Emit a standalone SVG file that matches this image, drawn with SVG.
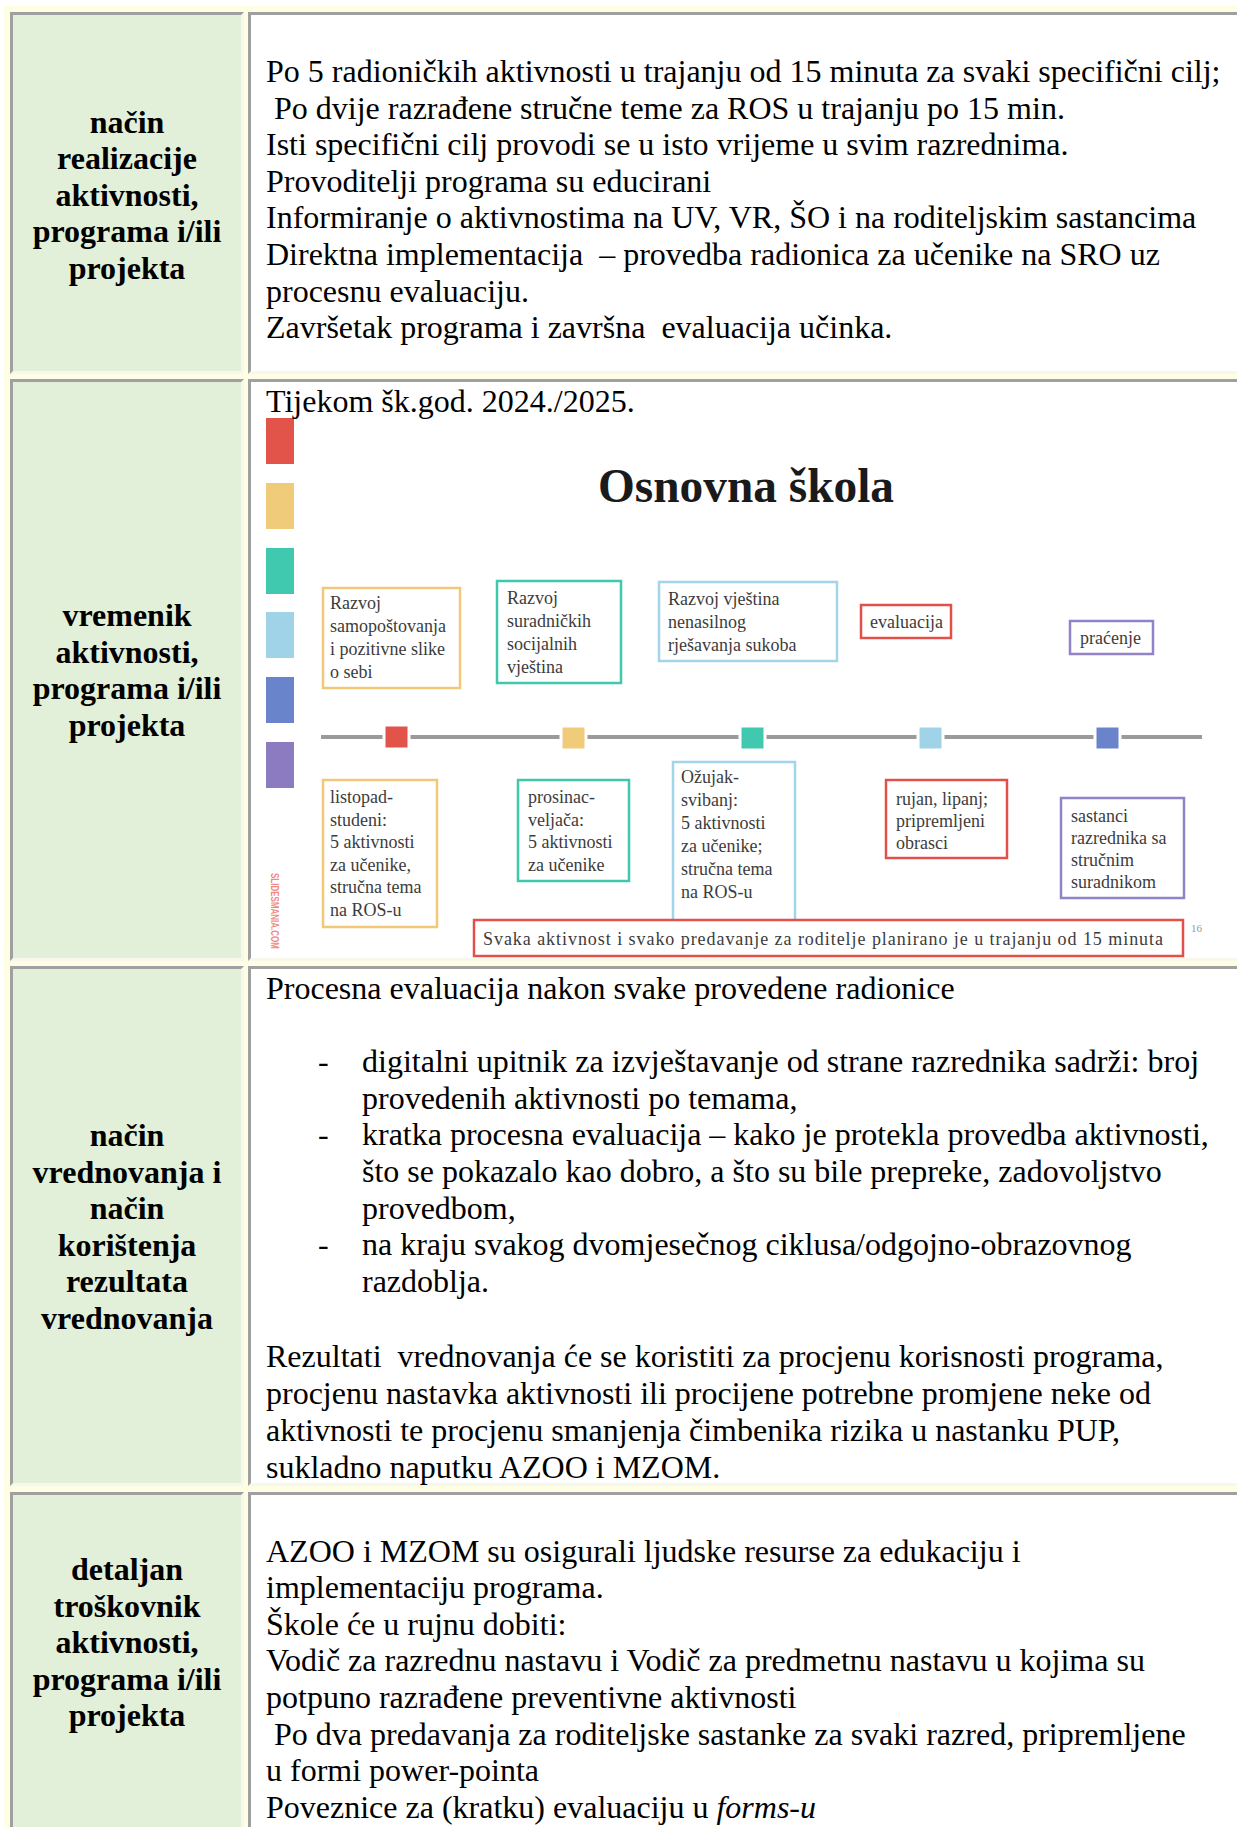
<svg xmlns="http://www.w3.org/2000/svg" width="1237" height="1827" viewBox="0 0 1237 1827">
<style>
.gray{fill:#a0a0a0}
.light{fill:#f7f7ec}
.lb{fill:#e2efd9}
.wb{fill:#ffffff}
.lbl{font-family:"Liberation Serif","Times New Roman",serif;font-size:32px;font-weight:bold;text-anchor:middle;fill:#000}
.txt{font-family:"Liberation Serif","Times New Roman",serif;font-size:32px;fill:#000;white-space:pre}
.sl{font-family:"Liberation Serif","Times New Roman",serif;font-size:18px;fill:#3c3c3c;white-space:pre}
.box{fill:#ffffff;stroke-width:2.5}
.red{stroke:#e2504a}.yel{stroke:#f0c878}.tea{stroke:#40c8ad}.lbl2{stroke:#a2d4ea}.blu{stroke:#6a84cc}.pur{stroke:#9282c6}
</style>
<rect x="0" y="0" width="1237" height="1827" fill="#ffffff"/>
<rect x="4" y="6" width="1233" height="1821" fill="#fefee4"/>

<!-- Row 1 -->
<g id="r1-label">
<rect x="10" y="12" width="234" height="362" class="gray"/>
<path d="M244 12 L244 374 L10 374 L13 371 L241 371 L241 15 Z" class="light"/>
<rect x="13" y="15" width="228" height="356" class="lb"/>
<text class="lbl" x="127" y="132.5">način</text>
<text class="lbl" x="127" y="169">realizacije</text>
<text class="lbl" x="127" y="205.7">aktivnosti,</text>
<text class="lbl" x="127" y="242.3">programa i/ili</text>
<text class="lbl" x="127" y="279">projekta</text>
</g>
<g id="r1-body">
<rect x="248" y="12" width="1000" height="362" class="gray"/>
<path d="M1248 12 L1248 374 L248 374 L251 371 L1245 371 L1245 15 Z" class="light"/>
<rect x="251" y="15" width="994" height="356" class="wb"/>
<text class="txt" x="266" y="82">Po 5 radioničkih aktivnosti u trajanju od 15 minuta za svaki specifični cilj;</text>
<text class="txt" x="266" y="118.6"> Po dvije razrađene stručne teme za ROS u trajanju po 15 min.</text>
<text class="txt" x="266" y="155.2">Isti specifični cilj provodi se u isto vrijeme u svim razrednima.</text>
<text class="txt" x="266" y="191.8">Provoditelji programa su educirani</text>
<text class="txt" x="266" y="228.4">Informiranje o aktivnostima na UV, VR, ŠO i na roditeljskim sastancima</text>
<text class="txt" x="266" y="265">Direktna implementacija  – provedba radionica za učenike na SRO uz</text>
<text class="txt" x="266" y="301.6">procesnu evaluaciju.</text>
<text class="txt" x="266" y="338.2">Završetak programa i završna  evaluacija učinka.</text>
</g>

<!-- Row 2 -->
<g id="r2-label">
<rect x="10" y="379" width="234" height="582" class="gray"/>
<path d="M244 379 L244 961 L10 961 L13 958 L241 958 L241 382 Z" class="light"/>
<rect x="13" y="382" width="228" height="576" class="lb"/>
<text class="lbl" x="127" y="626">vremenik</text>
<text class="lbl" x="127" y="662.6">aktivnosti,</text>
<text class="lbl" x="127" y="699.2">programa i/ili</text>
<text class="lbl" x="127" y="735.8">projekta</text>
</g>
<g id="r2-body">
<rect x="248" y="379" width="1000" height="582" class="gray"/>
<path d="M1248 379 L1248 961 L248 961 L251 958 L1245 958 L1245 382 Z" class="light"/>
<rect x="251" y="382" width="994" height="576" class="wb"/>
</g>
<g id="slide">
<rect x="266" y="418" width="28" height="46" fill="#e2534a"/>
<rect x="266" y="483" width="28" height="46" fill="#f0cb7a"/>
<rect x="266" y="548" width="28" height="46" fill="#40c9ae"/>
<rect x="266" y="612" width="28" height="46" fill="#a0d3e8"/>
<rect x="266" y="677" width="28" height="46" fill="#6a84cb"/>
<rect x="266" y="742" width="28" height="46" fill="#8c7bc0"/>
<text x="598" y="502" textLength="296" lengthAdjust="spacingAndGlyphs" style="font-family:'Liberation Serif',serif;font-size:48px;font-weight:bold;fill:#1a1a1a">Osnovna škola</text>
<text transform="translate(271,873) rotate(90)" textLength="76" lengthAdjust="spacingAndGlyphs" style="font-family:'Liberation Sans',sans-serif;font-size:10px;font-weight:bold;fill:#f08a82">SLIDESMANIA.COM</text>
<text x="1191" y="932" style="font-family:'Liberation Serif',serif;font-size:11px;fill:#999">16</text>
</g>
<g id="r2-text">
<text class="txt" x="266" y="412">Tijekom šk.god. 2024./2025.</text>
</g>
<g id="connectors">
<line x1="321" y1="737" x2="1202" y2="737" stroke="#9a9a9a" stroke-width="4"/>
</g>
<g id="tl-markers" stroke="#ffffff" stroke-width="3">
<rect x="384" y="725" width="25" height="24" fill="#e2534a"/>
<rect x="561" y="726" width="25" height="24" fill="#f0cb7a"/>
<rect x="740" y="726" width="25" height="24" fill="#40c9ae"/>
<rect x="918" y="726" width="25" height="24" fill="#a0d3e8"/>
<rect x="1095" y="726" width="25" height="24" fill="#6a84cb"/>
</g>
<g id="box-samopostovanje">
<rect x="323" y="588" width="137" height="100" class="box yel"/>
<text class="sl" x="330" y="609">Razvoj</text>
<text class="sl" x="330" y="632">samopoštovanja</text>
<text class="sl" x="330" y="655">i pozitivne slike</text>
<text class="sl" x="330" y="678">o sebi</text>
</g>
<g id="box-socijalne">
<rect x="497" y="581" width="124" height="102" class="box tea"/>
<text class="sl" x="507" y="604">Razvoj</text>
<text class="sl" x="507" y="627">suradničkih</text>
<text class="sl" x="507" y="650">socijalnih</text>
<text class="sl" x="507" y="673">vještina</text>
</g>
<g id="box-sukobi">
<rect x="659" y="582" width="178" height="79" class="box lbl2"/>
<text class="sl" x="668" y="605">Razvoj vještina</text>
<text class="sl" x="668" y="628">nenasilnog</text>
<text class="sl" x="668" y="651">rješavanja sukoba</text>
</g>
<g id="box-evaluacija">
<rect x="861" y="605" width="90" height="33" class="box red"/>
<text class="sl" x="870" y="628">evaluacija</text>
</g>
<g id="box-pracenje">
<rect x="1070" y="621" width="83" height="33" class="box pur"/>
<text class="sl" x="1080" y="644">praćenje</text>
</g>
<g id="box-listopad">
<rect x="323" y="780" width="114" height="147" class="box yel"/>
<text class="sl" x="330" y="803">listopad-</text>
<text class="sl" x="330" y="825.5">studeni:</text>
<text class="sl" x="330" y="848">5 aktivnosti</text>
<text class="sl" x="330" y="870.5">za učenike,</text>
<text class="sl" x="330" y="893">stručna tema</text>
<text class="sl" x="330" y="915.5">na ROS-u</text>
</g>
<g id="box-prosinac">
<rect x="518" y="780" width="111" height="101" class="box tea"/>
<text class="sl" x="528" y="803">prosinac-</text>
<text class="sl" x="528" y="825.5">veljača:</text>
<text class="sl" x="528" y="848">5 aktivnosti</text>
<text class="sl" x="528" y="870.5">za učenike</text>
</g>
<g id="box-ozujak">
<rect x="673" y="762" width="122" height="165" class="box lbl2"/>
<text class="sl" x="681" y="783">Ožujak-</text>
<text class="sl" x="681" y="806">svibanj:</text>
<text class="sl" x="681" y="829">5 aktivnosti</text>
<text class="sl" x="681" y="852">za učenike;</text>
<text class="sl" x="681" y="875">stručna tema</text>
<text class="sl" x="681" y="898">na ROS-u</text>
</g>
<g id="box-rujan">
<rect x="886" y="780" width="121" height="78" class="box red"/>
<text class="sl" x="896" y="805">rujan, lipanj;</text>
<text class="sl" x="896" y="827">pripremljeni</text>
<text class="sl" x="896" y="849">obrasci</text>
</g>
<g id="box-sastanci">
<rect x="1061" y="798" width="123" height="100" class="box pur"/>
<text class="sl" x="1071" y="822">sastanci</text>
<text class="sl" x="1071" y="844">razrednika sa</text>
<text class="sl" x="1071" y="866">stručnim</text>
<text class="sl" x="1071" y="888">suradnikom</text>
</g>
<g id="box-napomena">
<rect x="474" y="920" width="709" height="36" class="box red"/>
<text class="sl" x="483" y="945" textLength="680" lengthAdjust="spacing">Svaka aktivnost i svako predavanje za roditelje planirano je u trajanju od 15 minuta</text>
</g>

<!-- Row 3 -->
<g id="r3-label">
<rect x="10" y="966" width="234" height="520" class="gray"/>
<path d="M244 966 L244 1486 L10 1486 L13 1483 L241 1483 L241 969 Z" class="light"/>
<rect x="13" y="969" width="228" height="514" class="lb"/>
<text class="lbl" x="127" y="1146">način</text>
<text class="lbl" x="127" y="1182.6">vrednovanja i</text>
<text class="lbl" x="127" y="1219.2">način</text>
<text class="lbl" x="127" y="1255.8">korištenja</text>
<text class="lbl" x="127" y="1292.4">rezultata</text>
<text class="lbl" x="127" y="1329">vrednovanja</text>
</g>
<g id="r3-body">
<rect x="248" y="966" width="1000" height="520" class="gray"/>
<path d="M1248 966 L1248 1486 L248 1486 L251 1483 L1245 1483 L1245 969 Z" class="light"/>
<rect x="251" y="969" width="994" height="514" class="wb"/>
<text class="txt" x="266" y="999">Procesna evaluacija nakon svake provedene radionice</text>
<text class="txt" x="318" y="1072.2">-</text>
<text class="txt" x="362" y="1072.2">digitalni upitnik za izvještavanje od strane razrednika sadrži: broj</text>
<text class="txt" x="362" y="1108.8">provedenih aktivnosti po temama,</text>
<text class="txt" x="318" y="1145.4">-</text>
<text class="txt" x="362" y="1145.4">kratka procesna evaluacija – kako je protekla provedba aktivnosti,</text>
<text class="txt" x="362" y="1182">što se pokazalo kao dobro, a što su bile prepreke, zadovoljstvo</text>
<text class="txt" x="362" y="1218.6">provedbom,</text>
<text class="txt" x="318" y="1255.2">-</text>
<text class="txt" x="362" y="1255.2">na kraju svakog dvomjesečnog ciklusa/odgojno-obrazovnog</text>
<text class="txt" x="362" y="1291.8">razdoblja.</text>
<text class="txt" x="266" y="1367">Rezultati  vrednovanja će se koristiti za procjenu korisnosti programa,</text>
<text class="txt" x="266" y="1404">procjenu nastavka aktivnosti ili procijene potrebne promjene neke od</text>
<text class="txt" x="266" y="1441">aktivnosti te procjenu smanjenja čimbenika rizika u nastanku PUP,</text>
<text class="txt" x="266" y="1478">sukladno naputku AZOO i MZOM.</text>
</g>

<!-- Row 4 -->
<g id="r4-label">
<rect x="10" y="1492" width="234" height="340" class="gray"/>
<path d="M244 1492 L244 1832 L10 1832 L13 1829 L241 1829 L241 1495 Z" class="light"/>
<rect x="13" y="1495" width="228" height="334" class="lb"/>
<text class="lbl" x="127" y="1580">detaljan</text>
<text class="lbl" x="127" y="1616.6">troškovnik</text>
<text class="lbl" x="127" y="1653.2">aktivnosti,</text>
<text class="lbl" x="127" y="1689.8">programa i/ili</text>
<text class="lbl" x="127" y="1726.4">projekta</text>
</g>
<g id="r4-body">
<rect x="248" y="1492" width="1000" height="340" class="gray"/>
<path d="M1248 1492 L1248 1832 L248 1832 L251 1829 L1245 1829 L1245 1495 Z" class="light"/>
<rect x="251" y="1495" width="994" height="334" class="wb"/>
<text class="txt" x="266" y="1561.5">AZOO i MZOM su osigurali ljudske resurse za edukaciju i</text>
<text class="txt" x="266" y="1598.1">implementaciju programa.</text>
<text class="txt" x="266" y="1634.7">Škole će u rujnu dobiti:</text>
<text class="txt" x="266" y="1671.3">Vodič za razrednu nastavu i Vodič za predmetnu nastavu u kojima su</text>
<text class="txt" x="266" y="1707.9">potpuno razrađene preventivne aktivnosti</text>
<text class="txt" x="266" y="1744.5"> Po dva predavanja za roditeljske sastanke za svaki razred, pripremljene</text>
<text class="txt" x="266" y="1781.1">u formi power-pointa</text>
<text class="txt" x="266" y="1817.7">Poveznice za (kratku) evaluaciju u <tspan font-style="italic">forms-u</tspan></text>
</g>
</svg>
